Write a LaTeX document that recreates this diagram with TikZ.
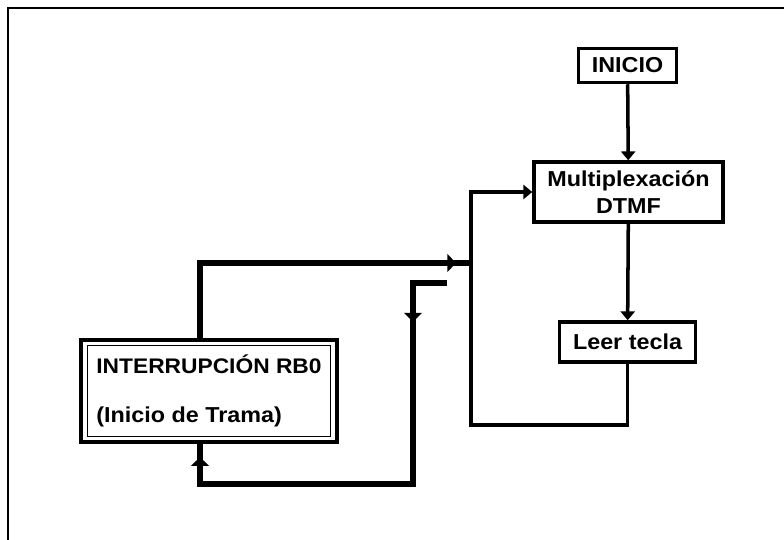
\documentclass[tikz,border=0pt]{standalone}
\usepackage{fontspec}
\setmainfont{Liberation Sans}[FakeStretch=1.08]
\usepackage{tikz}
\usetikzlibrary{arrows.meta,positioning,calc,decorations.markings}

\begin{document}
\begin{tikzpicture}[x=1cm, y=1cm, every node/.style={font=\bfseries\fontsize{12.3}{15}\selectfont},
        block/.style={draw, line width=2pt, inner sep=0pt, align=center},
        flow/.style={line width=2pt, -{Triangle[length=5pt,width=8pt]}},
        bus/.style={line width=3pt},
        tipat/.style={postaction={decorate, decoration={markings, mark=at position #1 with {\arrow{Triangle[length=5pt,width=10pt]}}}}}]
        \useasboundingbox (0,0) rectangle (15.68,10.8);

        % Frame
        \draw[line width=1.2pt] (0.16,0) -- (0.16,10.64) -- (15.68,10.64);

        % Main loop
        \node[block, minimum width=1.96cm, minimum height=0.68cm] (inicio) at (12.55,9.49) {INICIO};
        \node[block, minimum width=3.78cm, minimum height=1.2cm] (multi) at (12.57,6.96) {Multiplexación\\DTMF};
        \node[block, minimum width=2.72cm, minimum height=0.8cm] (leer) at (12.55,3.96) {Leer tecla};

        % Interrupt
        \node[block, line width=2.2pt, minimum width=5.12cm, minimum height=2.04cm, align=left] (int) at (4.18,2.98) {\fontsize{12}{15}\selectfont INTERRUPCIÓN RB0\\[13pt](Inicio de Trama)};
        \draw[line width=0.8pt] ($(int.south west)+(0.17,0.15)$) rectangle ($(int.north east)-(0.17,0.15)$);

        \coordinate (loopcorner) at (9.42,2.30);
        \coordinate (merge) at (9.42,5.54);
        \coordinate (stub) at (8.94,5.14);

        \draw[flow] (inicio) -- (multi);
        \draw[flow] (multi) -- (leer);
        \draw[flow] (leer.south) |- (loopcorner) |- (multi.west);

        \draw[bus, tipat=0.957] ($(int.north)+(-0.18,0)$) |- (merge);
        \draw[bus, tipat=0.149, tipat=0.973] (stub) -| (8.26,1.12) -| ($(int.south)+(-0.18,0)$);
    \end{tikzpicture}
\end{document}
